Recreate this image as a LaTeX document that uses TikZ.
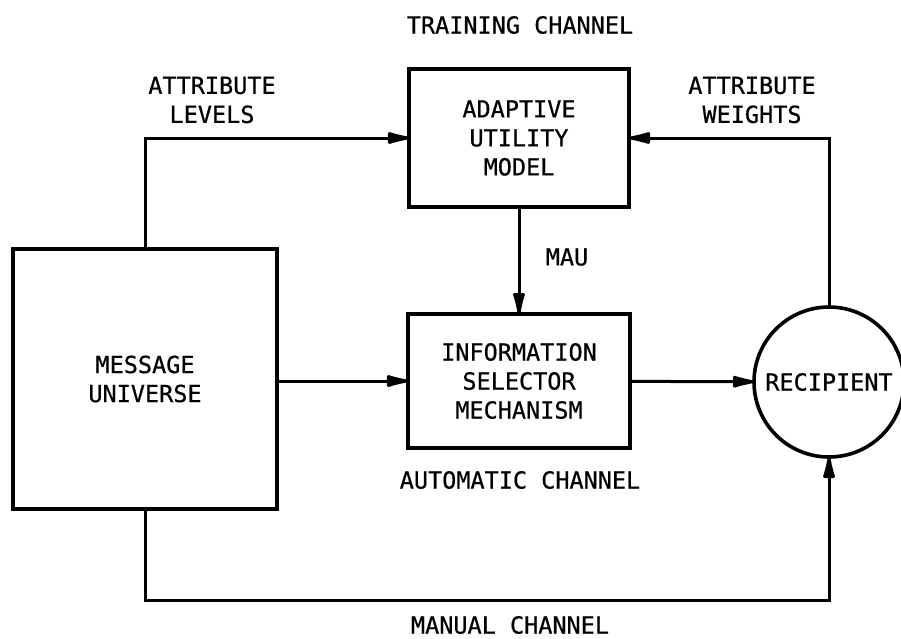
\documentclass[tikz,border=0pt]{standalone}
\usepackage{fontspec}
\setmonofont[FakeBold=0.6]{DejaVu Sans Mono}
\usetikzlibrary{arrows.meta}
\begin{document}
\begin{tikzpicture}[x=1pt,y=-1pt,
  font=\ttfamily\fontsize{23.5}{29}\selectfont,
  block/.style={rectangle, draw=black, line width=3.6pt, outer sep=0pt, align=center},
  label/.style={align=center, inner sep=0pt},
  link/.style={line width=3pt, -{Latex[round, length=30pt,width=13pt]}}]
\useasboundingbox (0,0) rectangle (901,638);
\node [block, minimum width=264, minimum height=260] (mu) at (145,379) {MESSAGE\\UNIVERSE};
\node [block, minimum width=220, minimum height=138] (aum) at (519,138) {ADAPTIVE\\UTILITY\\MODEL};
\node [block, minimum width=222, minimum height=134] (ism) at (519,381) {INFORMATION\\SELECTOR\\MECHANISM};
\node [block, circle, minimum size=150] (rec) at (829,382) {RECIPIENT};
\coordinate (mc) at (145,600);
\node [label] (tc) at (520,25) {TRAINING CHANNEL};
\node [label] (al) at (212,100) {ATTRIBUTE\\LEVELS};
\node [label] (aw) at (752,100) {ATTRIBUTE\\WEIGHTS};
\node [label] (mau) at (567,257) {MAU};
\node [label] (ac) at (520,480) {AUTOMATIC CHANNEL};
\node [label] (mnc) at (510,625) {MANUAL CHANNEL};
\draw [link] (mu.north) |- (aum.west);
\draw [link] (rec.north) |- (aum.east);
\draw [link] (aum) -- (ism);
\draw [link] (mu.east |- ism.west) -- (ism.west);
\draw [link] (ism) -- (rec);
\draw [link] (mu.south) -- (mc) -| (rec.south);
\end{tikzpicture}
\end{document}
